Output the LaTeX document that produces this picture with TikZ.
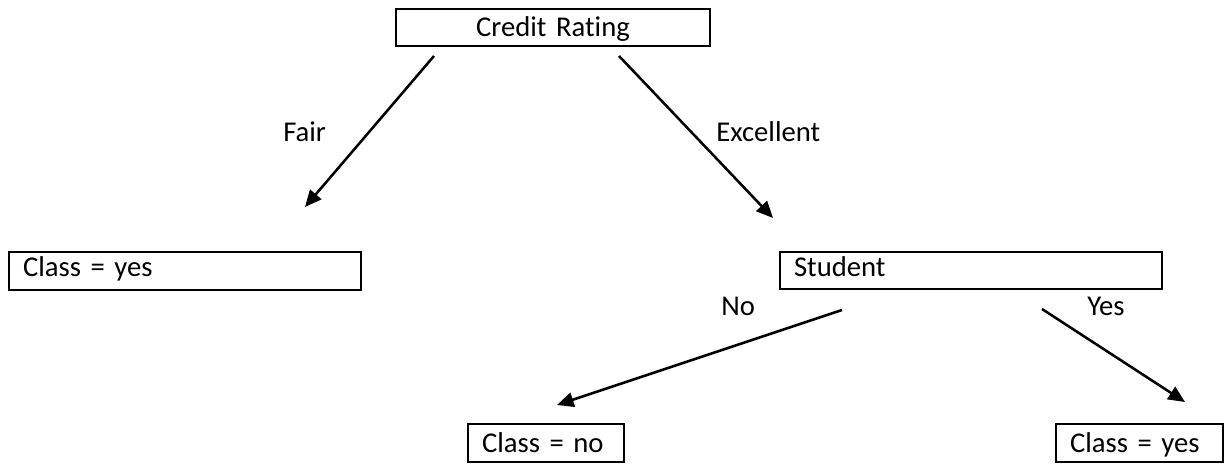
\documentclass[tikz,border=0pt]{standalone}
\usepackage{fontspec}
\setmainfont[Ligatures={NoCommon},WordSpace={0.9,0.3,0.3}]{Carlito}
\usetikzlibrary{arrows.meta}
\begin{document}
\begin{tikzpicture}[x=0.75pt,y=-0.75pt,
  every node/.style={font=\fontsize{21.5pt}{26pt}\selectfont},
  box/.style={draw,line width=1.8pt,rectangle,inner ysep=0pt,inner xsep=10.5pt,align=left},
  conn/.style={line width=1.9pt,-{Triangle[length=12.5pt,width=11pt]}},
  lbl/.style={anchor=base west,inner sep=0pt}]
\useasboundingbox (0,0) rectangle (1225,466);
\node[box,align=center,text width=214.5pt,minimum width=235.5pt,text height=21pt,text depth=6.75pt] (cr) at (553,27.5) {Credit Rating};
\node[box,text width=243pt,minimum width=264pt,text height=18.75pt,text depth=9.75pt] (cyl) at (185,271) {Class = yes};
\node[box,text width=265.5pt,minimum width=286.5pt,text height=18.75pt,text depth=9pt] (st) at (971,270.5) {Student};
\node[box,text width=96pt,minimum width=117pt,text height=21.5pt,text depth=7pt] (cn) at (546,443) {Class = no};
\node[box,text width=104.25pt,minimum width=125.25pt,text height=21.75pt,text depth=6.75pt] (cyr) at (1139.5,443) {Class = yes};
\coordinate (f1) at (434,56);
\coordinate (f2) at (305,207);
\coordinate (e1) at (619,56);
\coordinate (e2) at (773,218);
\coordinate (n1) at (842,310);
\coordinate (n2) at (557,405);
\coordinate (y1) at (1042,309);
\coordinate (y2) at (1185,402);
\draw[conn] (f1) -- (f2);
\draw[conn] (e1) -- (e2);
\draw[conn] (n1) -- (n2);
\draw[conn] (y1) -- (y2);
\node[lbl] (lf) at (283,142) {Fair};
\node[lbl] (le) at (716,142) {Excellent};
\node[lbl] (ln) at (721,316) {No};
\node[lbl] (ly) at (1087,316) {Yes};
\end{tikzpicture}
\end{document}
